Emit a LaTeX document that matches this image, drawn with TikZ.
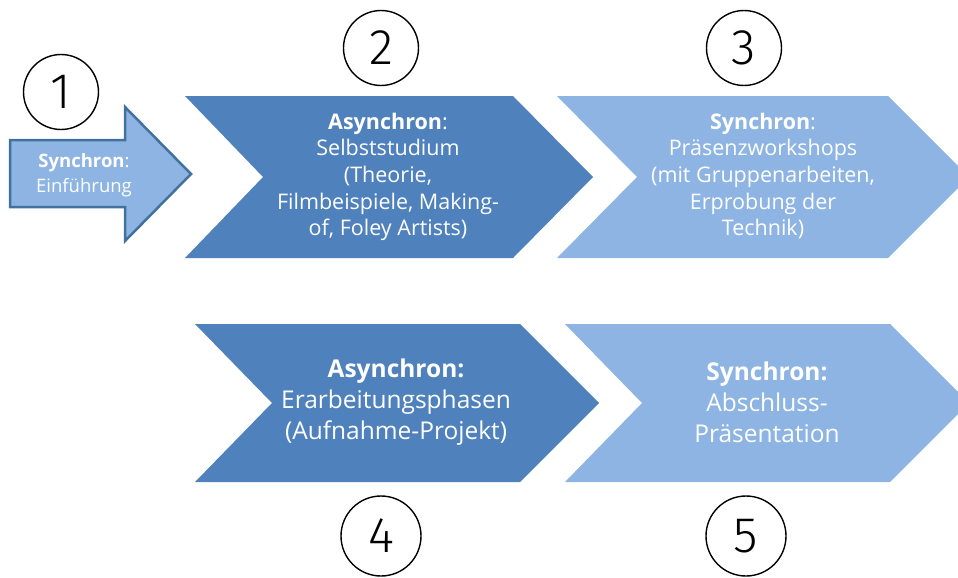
\documentclass[tikz,border=0pt]{standalone}
\usepackage{fontspec}
\setmainfont{Open Sans}
\newfontfamily\thinfont{Fira Sans Light}
\definecolor{darkblue}{HTML}{4F81BD}
\definecolor{lightblue}{HTML}{8DB4E2}
\definecolor{outlineblue}{HTML}{41719C}
\begin{document}
\begin{tikzpicture}[x=1pt,y=-1pt,
  darkchev/.style={fill=darkblue,draw=none},
  lightchev/.style={fill=lightblue,draw=none},
  chevtext/.style={text=white,align=center,inner sep=0pt,font=\fontsize{21.5}{26.7}\selectfont},
  chevtextbig/.style={text=white,align=center,inner sep=0pt,font=\fontsize{24.5}{31}\selectfont},
  numcircle/.style={circle,draw=black,line width=1.4pt,minimum size=75pt,inner sep=0pt,font=\thinfont\fontsize{50}{50}\selectfont}
]
\useasboundingbox (0,0) rectangle (958,578);
\clip (0,0) rectangle (958,578);
% arrow 1
\draw[fill=lightblue,draw=outlineblue,line width=2.5pt,line join=miter]
  (10,140) -- (125,140) -- (125,107) -- (191,174) -- (125,241) -- (125,207) -- (10,207) -- cycle;
\node[text=white,align=center,inner sep=0pt,font=\fontsize{18.5}{25}\selectfont] (t1) at (84,175)
  {\textbf{Synchron}:\\Einführung};
% chevron 2
\fill[darkchev] (185,96) -- (513,96) -- (593,177) -- (513,258) -- (185,258) -- (263,177) -- cycle;
\node[chevtext] (t2) at (388,177)
  {\textbf{Asynchron}:\\Selbststudium\\(Theorie,\\Filmbeispiele, Making-\\of, Foley Artists)};
% chevron 3
\fill[lightchev] (557,96) -- (888,96) -- (969,177) -- (888,258) -- (557,258) -- (637,177) -- cycle;
\node[chevtext] (t3) at (763,176)
  {\textbf{Synchron}:\\Präsenzworkshops\\(mit Gruppenarbeiten,\\Erprobung der\\Technik)};
% chevron 4
\fill[darkchev] (195,324) -- (520,324) -- (599,403) -- (520,482) -- (195,482) -- (272,403) -- cycle;
\node[chevtextbig] (t4) at (396,402)
  {\textbf{Asynchron:}\\Erarbeitungsphasen\\(Aufnahme-Projekt)};
% chevron 5
\fill[lightchev] (565,324) -- (890,324) -- (969,403) -- (890,482) -- (565,482) -- (642,403) -- cycle;
\node[chevtextbig] (t5) at (767,402)
  {\textbf{Synchron:}\\Abschluss-\\Präsentation};
% number circles
\node[numcircle] (c1) at (61,92) {1};
\node[numcircle] (c2) at (381,48) {2};
\node[numcircle] (c3) at (744,48) {3};
\node[numcircle,minimum size=80pt] (c4) at (381,536) {4};
\node[numcircle,minimum size=80pt] (c5) at (746,536) {5};
\end{tikzpicture}
\end{document}
